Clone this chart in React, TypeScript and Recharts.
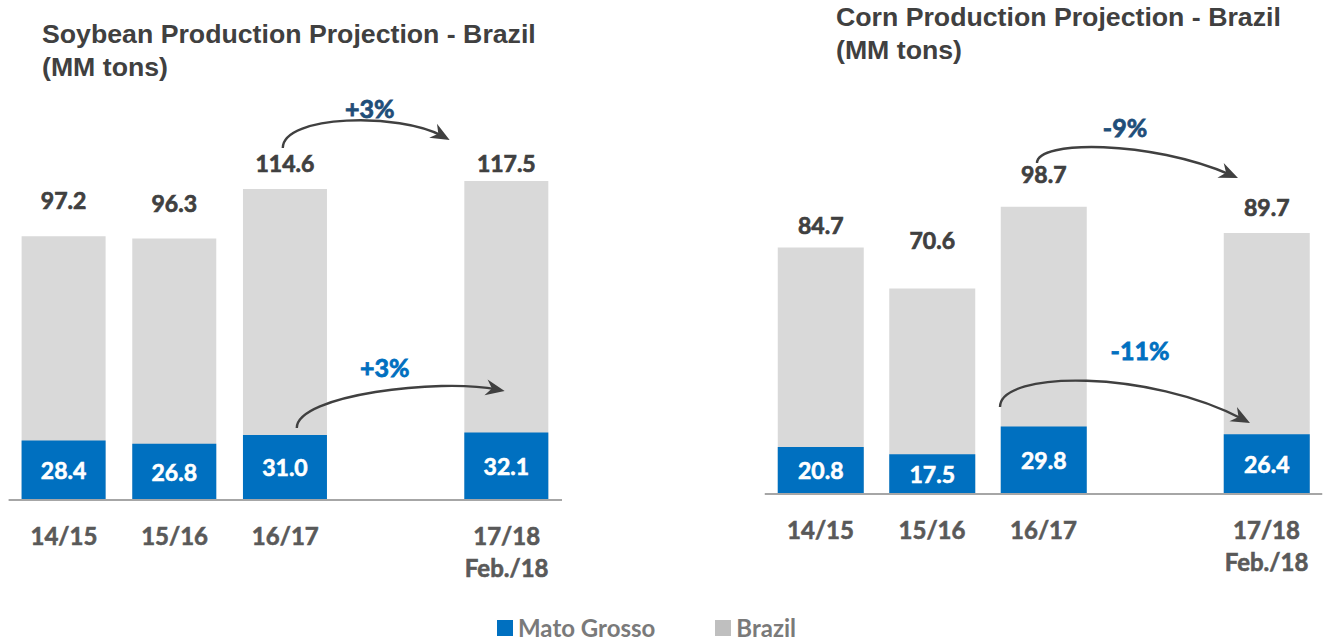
import React from 'react';
import { BarChart, Bar, XAxis, YAxis, LabelList, ReferenceLine } from 'recharts';

// ---------- data ----------
const CATEGORIES = ['14/15', '15/16', '16/17', '', '17/18\nFeb./18'];
const SOY_BRAZIL: (number | null)[] = [97.2, 96.3, 114.6, null, 117.5];
const SOY_MATO_GROSSO: (number | null)[] = [28.4, 26.8, 31.0, null, 32.1];
const CORN_BRAZIL: (number | null)[] = [84.7, 70.6, 98.7, null, 89.7];
const CORN_MATO_GROSSO: (number | null)[] = [20.8, 17.5, 29.8, null, 26.4];
const SOY_CHANGE = { brazil: '+3%', matoGrosso: '+3%' };
const CORN_CHANGE = { brazil: '-9%', matoGrosso: '-11%' };
const FROM_CAT = '16/17';
const TO_CAT = '17/18\nFeb./18';

// label lift above grey bars (px), styling only
const SOY_LABEL_LIFT = [36, 35.5, 26, 0, 18];
const CORN_LABEL_LIFT = [22.5, 48.5, 33, 0, 26];

const BLUE = '#0070C0';
const GREY = '#D9D9D9';
const DARK = '#404040';
const NAVY = '#1F4E79';
const LABEL_FONT = 'Lato, "Open Sans", sans-serif';

const buildRows = (br: (number | null)[], mt: (number | null)[]) =>
  CATEGORIES.map((c, i) => ({ cat: c, br: br[i], mt: mt[i] }));

const soyRows = buildRows(SOY_BRAZIL, SOY_MATO_GROSSO);
const cornRows = buildRows(CORN_BRAZIL, CORN_MATO_GROSSO);

const boldText = (fill: string, w = 0.6) => ({
  fill,
  stroke: fill,
  strokeWidth: w,
  paintOrder: 'stroke' as const,
});

const CatTick = (props: any) => {
  const { x, y, payload } = props;
  const lines = String(payload.value).split('\n').filter((s) => s.length);
  return (
    <g>
      {lines.map((ln, i) => (
        <text
          key={i}
          x={x}
          y={y + 27 + i * 32}
          textAnchor="middle"
          dominantBaseline="central"
          fontFamily={LABEL_FONT}
          fontWeight={700}
          fontSize={24}
          {...boldText('#595959', 0.6)}
        >
          {ln}
        </text>
      ))}
    </g>
  );
};

const topLabel = (values: (number | null)[], lift: number[]) => (props: any) => {
  const { x, y, width, value } = props;
  if (value === null || value === undefined) return null;
  const idx = values.indexOf(Number(value));
  return (
    <text
      x={x + width / 2}
      y={y - (lift[idx] ?? 25)}
      textAnchor="middle"
      dominantBaseline="central"
      fontFamily={LABEL_FONT}
      fontWeight={700}
      fontSize={23}
      {...boldText(DARK, 0.7)}
    >
      {Number(value).toFixed(1)}
    </text>
  );
};

const innerLabel = (props: any) => {
  const { x, y, width, height, value } = props;
  if (value === null || value === undefined) return null;
  return (
    <text
      x={x + width / 2}
      y={y + height / 2}
      textAnchor="middle"
      dominantBaseline="central"
      fontFamily={LABEL_FONT}
      fontWeight={700}
      fontSize={23}
      {...boldText('#FFFFFF', 0.6)}
    >
      {Number(value).toFixed(1)}
    </text>
  );
};

type ArrowCfg = {
  s: [number, number];
  t: [number, number];
  c1: [number, number];
  c2: [number, number];
  text: string;
  textOff: [number, number];
  color: string;
};

const makeArrow = (cfg: ArrowCfg) => (props: any) => {
  const { x1, y1, x2, y2 } = props;
  const S = { x: x1 + cfg.s[0], y: y1 + cfg.s[1] };
  const T = { x: x2 + cfg.t[0], y: y2 + cfg.t[1] };
  const P1 = { x: S.x + cfg.c1[0], y: S.y + cfg.c1[1] };
  const P2 = { x: T.x + cfg.c2[0], y: T.y + cfg.c2[1] };
  const dx = T.x - P2.x;
  const dy = T.y - P2.y;
  const len = Math.sqrt(dx * dx + dy * dy) || 1;
  const ux = dx / len;
  const uy = dy / len;
  const nx = -uy;
  const ny = ux;
  const L = 19;
  const W = 8;
  const bx = T.x - ux * L;
  const by = T.y - uy * L;
  const notchX = T.x - ux * (L - 6);
  const notchY = T.y - uy * (L - 6);
  const endX = T.x - ux * 8;
  const endY = T.y - uy * 8;
  return (
    <g>
      <path
        d={`M${S.x},${S.y} C${P1.x},${P1.y} ${P2.x},${P2.y} ${endX},${endY}`}
        fill="none"
        stroke={DARK}
        strokeWidth={2.4}
      />
      <path
        d={`M${T.x},${T.y} L${bx + nx * W},${by + ny * W} L${notchX},${notchY} L${bx - nx * W},${by - ny * W} Z`}
        fill={DARK}
      />
      <text
        x={S.x + cfg.textOff[0]}
        y={S.y + cfg.textOff[1]}
        textAnchor="middle"
        dominantBaseline="central"
        fontFamily={LABEL_FONT}
        fontWeight={700}
        fontSize={25}
        {...boldText(cfg.color, 0.8)}
      >
        {cfg.text}
      </text>
    </g>
  );
};

type ChartProps = {
  rows: any[];
  width: number;
  margin: { top: number; right: number; left: number; bottom: number };
  brMax: number;
  mtMax: number;
  barSize: number;
  lift: number[];
  topArrow: ArrowCfg;
  bottomArrow: ArrowCfg;
  br: (number | null)[];
  mt: (number | null)[];
};

const ProductionChart = (p: ChartProps) => {
  const fromIdx = CATEGORIES.indexOf(FROM_CAT);
  const toIdx = CATEGORIES.indexOf(TO_CAT);
  return (
    <BarChart width={p.width} height={600} data={p.rows} margin={p.margin}>
      <XAxis
        xAxisId="a"
        dataKey="cat"
        height={90}
        tickLine={false}
        axisLine={{ stroke: '#A6A6A6', strokeWidth: 2 }}
        tick={<CatTick />}
        interval={0}
      />
      <XAxis xAxisId="b" dataKey="cat" hide />
      <YAxis yAxisId="br" hide domain={[0, p.brMax]} />
      <YAxis yAxisId="mt" hide domain={[0, p.mtMax]} />
      <Bar
        xAxisId="a"
        yAxisId="br"
        dataKey="br"
        name="Brazil"
        fill={GREY}
        barSize={p.barSize}
        isAnimationActive={false}
      >
        <LabelList dataKey="br" content={topLabel(p.br, p.lift)} />
      </Bar>
      <Bar
        xAxisId="b"
        yAxisId="mt"
        dataKey="mt"
        name="Mato Grosso"
        fill={BLUE}
        barSize={p.barSize}
        isAnimationActive={false}
      >
        <LabelList dataKey="mt" content={innerLabel} />
      </Bar>
      <ReferenceLine
        xAxisId="a"
        yAxisId="br"
        ifOverflow="visible"
        segment={[
          { x: FROM_CAT, y: p.br[fromIdx] as number },
          { x: TO_CAT, y: p.br[toIdx] as number },
        ]}
        shape={makeArrow(p.topArrow)}
      />
      <ReferenceLine
        xAxisId="a"
        yAxisId="mt"
        ifOverflow="visible"
        segment={[
          { x: FROM_CAT, y: p.mt[fromIdx] as number },
          { x: TO_CAT, y: p.mt[toIdx] as number },
        ]}
        shape={makeArrow(p.bottomArrow)}
      />
    </BarChart>
  );
};

const titleStyle: React.CSSProperties = {
  position: 'absolute',
  fontFamily: '"Liberation Sans", Arial, sans-serif',
  fontWeight: 700,
  fontSize: 26.7,
  lineHeight: '33px',
  color: DARK,
  whiteSpace: 'nowrap',
};

export default function App() {
  return (
    <div
      style={{
        position: 'relative',
        width: 1325,
        height: 642,
        background: '#FFFFFF',
        overflow: 'hidden',
      }}
    >
      <style>{`html,body{margin:0;padding:0;overflow:hidden;}`}</style>
      <div style={{ ...titleStyle, left: 42, top: 18 }}>
        Soybean Production Projection - Brazil
        <br />
        (MM tons)
      </div>
      <div style={{ ...titleStyle, left: 836, top: 1 }}>
        Corn Production Projection - Brazil
        <br />
        (MM tons)
      </div>

      <div style={{ position: 'absolute', left: 0, top: 0 }}>
        <ProductionChart
          rows={soyRows}
          width={570}
          margin={{ top: 120, right: 8, left: 8.6, bottom: 10 }}
          brMax={140}
          mtMax={181}
          barSize={84}
          lift={SOY_LABEL_LIFT}
          br={SOY_BRAZIL}
          mt={SOY_MATO_GROSSO}
          topArrow={{
            s: [-2.5, -41],
            t: [-57, -41],
            c1: [0, -33],
            c2: [-50, -28],
            text: SOY_CHANGE.brazil,
            textOff: [87, -40],
            color: NAVY,
          }}
          bottomArrow={{
            s: [11.5, -7],
            t: [-2, -41.6],
            c1: [0, -33],
            c2: [-65, -13],
            text: SOY_CHANGE.matoGrosso,
            textOff: [88, -61],
            color: BLUE,
          }}
        />
      </div>

      <div style={{ position: 'absolute', left: 700, top: 0 }}>
        <ProductionChart
          rows={cornRows}
          width={625}
          margin={{ top: 144.8, right: 2.75, left: 64.75, bottom: 16 }}
          brMax={120}
          mtMax={154.2}
          barSize={86}
          lift={CORN_LABEL_LIFT}
          br={CORN_BRAZIL}
          mt={CORN_MATO_GROSSO}
          topArrow={{
            s: [-6.5, -43.8],
            t: [-28.5, -55],
            c1: [0, -23],
            c2: [-88, -38],
            text: CORN_CHANGE.brazil,
            textOff: [88, -36],
            color: NAVY,
          }}
          bottomArrow={{
            s: [-43.5, -19.5],
            t: [-16.5, -11.2],
            c1: [0, -37],
            c2: [-100, -53],
            text: CORN_CHANGE.matoGrosso,
            textOff: [140, -57],
            color: BLUE,
          }}
        />
      </div>

      <div
        style={{
          position: 'absolute',
          left: 497,
          top: 613,
          height: 30,
          display: 'flex',
          alignItems: 'center',
          fontFamily: LABEL_FONT,
          fontWeight: 700,
          fontSize: 24,
          lineHeight: '30px',
          color: '#7A7A7A',
          whiteSpace: 'nowrap',
        }}
      >
        <span style={{ display: 'inline-block', width: 16, height: 16, background: BLUE, marginRight: 5 }} />
        <span>Mato Grosso</span>
        <span style={{ display: 'inline-block', width: 16, height: 16, background: '#BFBFBF', marginLeft: 60, marginRight: 5 }} />
        <span>Brazil</span>
      </div>
    </div>
  );
}
